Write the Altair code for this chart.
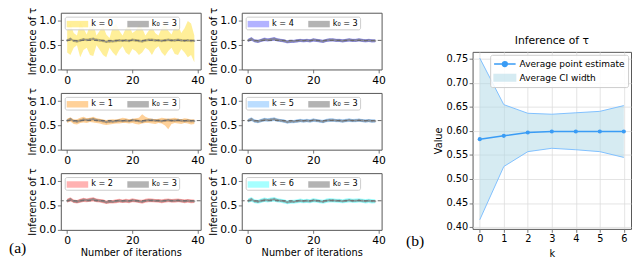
import altair as alt
import pandas as pd

# ---------------- data ----------------
iterations = list(range(40))

# k0 = 3 reference run: point estimate and CI half width
est_k0_3 = [0.60, 0.63, 0.59, 0.58, 0.60, 0.62, 0.61, 0.62, 0.63, 0.61,
            0.60, 0.59, 0.57, 0.58, 0.58, 0.59, 0.60, 0.59, 0.60, 0.59,
            0.61, 0.60, 0.59, 0.58, 0.60, 0.61, 0.61, 0.60, 0.60, 0.59,
            0.60, 0.61, 0.60, 0.60, 0.61, 0.60, 0.59, 0.60, 0.59, 0.59]
half_k0_3 = [0.030, 0.028, 0.025, 0.027, 0.030, 0.028, 0.026, 0.029, 0.030, 0.027,
             0.026, 0.028, 0.025, 0.027, 0.026, 0.028, 0.027, 0.026, 0.028, 0.027,
             0.029, 0.026, 0.027, 0.028, 0.026, 0.027, 0.028, 0.026, 0.027, 0.028,
             0.026, 0.027, 0.028, 0.026, 0.027, 0.028, 0.026, 0.027, 0.028, 0.026]

upper_k0 = [0.85, 0.95, 0.75, 0.70, 0.98, 0.85, 0.72, 0.92, 0.95, 0.70,
            0.80, 0.90, 0.72, 0.65, 0.88, 0.95, 0.80, 0.70, 0.85, 0.90,
            0.75, 0.80, 0.92, 0.85, 0.70, 0.80, 0.88, 0.75, 0.70, 0.85,
            0.95, 0.80, 0.72, 0.88, 0.92, 0.75, 0.85, 1.00, 0.95, 0.70]
lower_k0 = [0.35, 0.30, 0.45, 0.50, 0.25, 0.40, 0.45, 0.30, 0.28, 0.50,
            0.40, 0.30, 0.25, 0.45, 0.35, 0.28, 0.40, 0.48, 0.35, 0.30,
            0.42, 0.38, 0.30, 0.35, 0.45, 0.40, 0.30, 0.42, 0.48, 0.35,
            0.28, 0.38, 0.45, 0.32, 0.30, 0.42, 0.35, 0.25, 0.30, 0.15]

upper_k1 = [0.64, 0.67, 0.62, 0.63, 0.66, 0.68, 0.65, 0.66, 0.68, 0.65,
            0.64, 0.62, 0.61, 0.62, 0.63, 0.62, 0.64, 0.66, 0.65, 0.63,
            0.64, 0.65, 0.66, 0.73, 0.68, 0.65, 0.64, 0.63, 0.64, 0.66,
            0.65, 0.64, 0.65, 0.66, 0.64, 0.63, 0.65, 0.64, 0.62, 0.63]
lower_k1 = [0.55, 0.58, 0.53, 0.52, 0.55, 0.56, 0.55, 0.57, 0.56, 0.55,
            0.54, 0.52, 0.51, 0.52, 0.53, 0.54, 0.54, 0.55, 0.55, 0.54,
            0.55, 0.53, 0.52, 0.54, 0.55, 0.55, 0.54, 0.53, 0.55, 0.54,
            0.50, 0.42, 0.53, 0.55, 0.54, 0.53, 0.55, 0.54, 0.52, 0.53]

half_k2 = [0.040, 0.042, 0.038, 0.036, 0.040, 0.043, 0.039, 0.041, 0.044, 0.038,
           0.037, 0.040, 0.036, 0.038, 0.037, 0.039, 0.040, 0.038, 0.041, 0.039,
           0.040, 0.038, 0.037, 0.039, 0.041, 0.040, 0.038, 0.037, 0.039, 0.040,
           0.041, 0.039, 0.038, 0.040, 0.039, 0.038, 0.040, 0.039, 0.042, 0.038]
half_k4 = [0.036, 0.038, 0.034, 0.033, 0.036, 0.037, 0.035, 0.036, 0.038, 0.034,
           0.033, 0.035, 0.033, 0.034, 0.033, 0.035, 0.036, 0.034, 0.035, 0.034,
           0.036, 0.034, 0.033, 0.034, 0.035, 0.036, 0.035, 0.034, 0.035, 0.034,
           0.035, 0.036, 0.034, 0.035, 0.034, 0.033, 0.035, 0.034, 0.035, 0.034]
half_k5 = [0.037, 0.039, 0.035, 0.034, 0.037, 0.038, 0.036, 0.037, 0.039, 0.035,
           0.034, 0.036, 0.034, 0.035, 0.034, 0.036, 0.037, 0.035, 0.036, 0.035,
           0.037, 0.035, 0.034, 0.035, 0.036, 0.037, 0.036, 0.035, 0.036, 0.035,
           0.036, 0.037, 0.035, 0.036, 0.035, 0.034, 0.036, 0.035, 0.036, 0.035]
half_k6 = [0.045, 0.048, 0.042, 0.041, 0.046, 0.047, 0.044, 0.046, 0.049, 0.043,
           0.041, 0.044, 0.040, 0.042, 0.041, 0.043, 0.045, 0.042, 0.044, 0.043,
           0.046, 0.043, 0.042, 0.043, 0.045, 0.046, 0.044, 0.043, 0.044, 0.043,
           0.045, 0.046, 0.043, 0.045, 0.044, 0.042, 0.045, 0.044, 0.046, 0.043]

k_values = [0, 1, 2, 3, 4, 5, 6]
avg_point = [0.583, 0.590, 0.597, 0.599, 0.599, 0.599, 0.599]
ci_upper = [0.752, 0.655, 0.637, 0.635, 0.638, 0.641, 0.653]
ci_lower = [0.415, 0.526, 0.557, 0.564, 0.561, 0.557, 0.545]
value_ticks = [0.40, 0.45, 0.50, 0.55, 0.60, 0.65, 0.70, 0.75]

band_colors = {0: "#FFD700", 1: "#FF8C00", 2: "#FF0000", 4: "#0000FF", 5: "#1E90FF", 6: "#00FFFF"}
band_opacity = {0: 0.4, 1: 0.4, 2: 0.3, 4: 0.3, 5: 0.3, 6: 0.35}
REF_LABEL = "k\u2080 = 3"
REF_COLOR = "#808080"
REF_OPACITY = 0.6

PW, PH = 143, 58
FONT = "DejaVu Sans"

ref_lower = [e - h for e, h in zip(est_k0_3, half_k0_3)]
ref_upper = [e + h for e, h in zip(est_k0_3, half_k0_3)]


def band_from_half(half):
    return ([e - h for e, h in zip(est_k0_3, half)],
            [e + h for e, h in zip(est_k0_3, half)])


bands = {
    0: (lower_k0, upper_k0),
    1: (lower_k1, upper_k1),
    2: band_from_half(half_k2),
    4: band_from_half(half_k4),
    5: band_from_half(half_k5),
    6: band_from_half(half_k6),
}

RECT = "M-1,-0.6H3V0.6H-1Z"


def panel(k, xtitle=False, label=None):
    lab = f"k = {k}"
    lo, hi = bands[k]
    df_k = pd.DataFrame({"iter": iterations, "lo": lo, "hi": hi, "series": lab})
    df_r = pd.DataFrame({"iter": iterations, "lo": ref_lower, "hi": ref_upper,
                         "est": est_k0_3, "series": REF_LABEL})
    xs = alt.Scale(domain=[-1.95, 40.95], nice=False, zero=False)
    ys = alt.Scale(domain=[0, 1.17], nice=False)
    xax = alt.Axis(values=[0, 20, 40], title="Number of iterations" if xtitle else None,
                   grid=False, labelFontSize=11, titleFontSize=10, titlePadding=2)
    yax = alt.Axis(values=[0, 0.5, 1.0], format=".1f", title="Inference of \u03c4",
                   grid=False, labelFontSize=11, titleFontSize=10, titlePadding=1)

    def X():
        return alt.X("iter:Q", scale=xs, axis=xax)

    def Y(f):
        return alt.Y(f"{f}:Q", scale=ys, axis=yax)

    cscale = alt.Scale(domain=[lab, REF_LABEL], range=[band_colors[k], REF_COLOR])
    oscale = alt.Scale(domain=[lab, REF_LABEL], range=[band_opacity[k], REF_OPACITY])
    legend = alt.Legend(
        title=None, orient="top-left", offset=4, direction="horizontal",
        fillColor="rgba(255,255,255,0.85)", strokeColor="#cccccc", cornerRadius=2,
        padding=2, symbolType=RECT, symbolSize=121, symbolStrokeWidth=0,
        labelFontSize=8.3, labelOffset=14, columnPadding=14, labelFont=FONT,
    )
    enc_color = alt.Color("series:N", scale=cscale, legend=legend)
    enc_op = alt.Opacity("series:N", scale=oscale, legend=legend)
    ref_band = alt.Chart(df_r).mark_area().encode(
        x=X(), y=Y("lo"), y2="hi:Q", color=enc_color, opacity=enc_op,
    )
    k_band = alt.Chart(df_k).mark_area().encode(
        x=X(), y=Y("lo"), y2="hi:Q", color=enc_color, opacity=enc_op,
    )
    line = alt.Chart(df_r).mark_line(
        color="#8a8a8a", strokeWidth=1, opacity=0.7,
        point=alt.OverlayMarkDef(color="#8a8a8a", size=5, opacity=0.7),
    ).encode(x=X(), y=Y("est"))
    rule = alt.Chart(pd.DataFrame({"t": [0.6]})).mark_rule(
        color="#666666", strokeDash=[4, 3], strokeWidth=1
    ).encode(y=Y("t"))
    layers = [ref_band, k_band, line, rule]
    if label:
        txt = alt.Chart(pd.DataFrame({"t": [label]})).mark_text(
            align="left", baseline="middle", font="Liberation Serif", fontSize=16, color="black"
        ).encode(x=alt.value(-53), y=alt.value(PH + 19), text="t:N")
        layers.append(txt)
    return alt.layer(*layers).properties(width=PW, height=PH)


def blank(w, h):
    return alt.Chart(pd.DataFrame({"v": [0]})).mark_point(opacity=0).encode(
        x=alt.X("v:Q", axis=None), y=alt.Y("v:Q", axis=None)
    ).properties(width=w, height=h, view=alt.ViewBackground(stroke="transparent"))


# ---------------- right panel ----------------
RW, RH = 162, 181
LINE_BLUE = "#3a9cf5"
FILL_BLUE = "#add8e6"
SERIES_B = ["Average point estimate", "Average CI width"]
df_b = pd.DataFrame({"k": k_values, "est": avg_point, "lo": ci_lower, "hi": ci_upper,
                     "series": "Average CI width"})
df_leg = pd.DataFrame({"k": [-5, -5], "lo": [0.6, 0.6], "series": SERIES_B})
bxs = alt.Scale(domain=[-0.3, 6.3], nice=False, zero=False)
bys = alt.Scale(domain=[0.396, 0.765], nice=False, zero=False)
bxax = alt.Axis(values=k_values, title="k", grid=True, gridColor="#dddddd", gridWidth=0.8,
                labelFontSize=10, titleFontSize=10, titlePadding=5, labelOverlap=False)
byax = alt.Axis(values=value_ticks, format=".2f",
                title="Value", grid=True, gridColor="#dddddd", gridWidth=0.8,
                labelFontSize=10, titleFontSize=10, titlePadding=3, labelOverlap=False)


def BX():
    return alt.X("k:Q", scale=bxs, axis=bxax)


def BY(f):
    return alt.Y(f"{f}:Q", scale=bys, axis=byax)


LINE_SYM = "M-1,0H3M0.55,0A0.45,0.45,0,1,1,1.45,0A0.45,0.45,0,1,1,0.55,0Z"
b_legend = alt.Legend(
    title=None, orient="top-right", offset=3, direction="vertical",
    fillColor="rgba(255,255,255,0.85)", strokeColor="#cccccc", cornerRadius=2,
    padding=3, symbolSize=121, symbolStrokeWidth=1.5, labelFontSize=9.2, labelOffset=14,
    rowPadding=2, labelFont=FONT,
)
b_color = alt.Color("series:N", scale=alt.Scale(domain=SERIES_B, range=[LINE_BLUE, FILL_BLUE]),
                    legend=b_legend)
b_area = alt.Chart(df_b).mark_area(opacity=0.5).encode(
    x=BX(), y=BY("lo"), y2="hi:Q", color=b_color,
)
b_key = alt.Chart(df_leg).mark_point(filled=True, clip=True).encode(
    x=BX(), y=BY("lo"),
    color=b_color,
    shape=alt.Shape("series:N", scale=alt.Scale(domain=SERIES_B, range=[LINE_SYM, RECT]),
                    legend=b_legend),
    stroke=alt.Stroke("series:N", scale=alt.Scale(domain=SERIES_B, range=[LINE_BLUE, FILL_BLUE]),
                      legend=b_legend),
    opacity=alt.Opacity("series:N", scale=alt.Scale(domain=SERIES_B, range=[1.0, 0.5]),
                        legend=b_legend),
)
b_up = alt.Chart(df_b).mark_line(color="#7fbfff", strokeWidth=1).encode(x=BX(), y=BY("hi"))
b_lo = alt.Chart(df_b).mark_line(color="#7fbfff", strokeWidth=1).encode(x=BX(), y=BY("lo"))
b_est = alt.Chart(df_b).mark_line(
    color=LINE_BLUE, strokeWidth=1.5,
    point=alt.OverlayMarkDef(color=LINE_BLUE, size=18, filled=True),
).encode(x=BX(), y=BY("est"))
b_txt = alt.Chart(pd.DataFrame({"t": ["(b)"]})).mark_text(
    align="left", baseline="middle", font="Liberation Serif", fontSize=16, color="black"
).encode(x=alt.value(-68), y=alt.value(RH + 12), text="t:N")
right = alt.layer(b_area, b_up, b_lo, b_est, b_key, b_txt).properties(
    width=RW, height=RH,
    title=alt.TitleParams("Inference of \u03c4", fontSize=11, fontWeight="normal",
                          font=FONT, offset=6),
)

left_grid = alt.concat(
    panel(0), panel(4), panel(1), panel(5),
    panel(2, xtitle=True, label="(a)"), panel(6, xtitle=True),
    columns=2, spacing={"row": 24, "column": 42}, bounds="flush",
).resolve_scale(color="independent", opacity="independent")

right_col = alt.vconcat(blank(RW, 16), right, spacing=24, bounds="flush").resolve_scale(
    color="independent", opacity="independent", shape="independent", stroke="independent"
)

chart = alt.hconcat(left_grid, right_col, spacing=19).resolve_scale(
    color="independent", opacity="independent", shape="independent", stroke="independent"
).properties(
    padding={"top": -5, "left": 0, "right": 0, "bottom": 0}
).configure_view(
    stroke="#555555", strokeWidth=1
).configure_axis(
    labelFont=FONT, titleFont=FONT, titleFontWeight="normal", domain=False,
    tickColor="#555555", tickSize=3.5, tickWidth=0.8, labelPadding=1.5,
    labelColor="black", titleColor="black",
).configure_legend(labelFont=FONT)

chart.save("out.html", embed_options={"renderer": "svg", "actions": False})
